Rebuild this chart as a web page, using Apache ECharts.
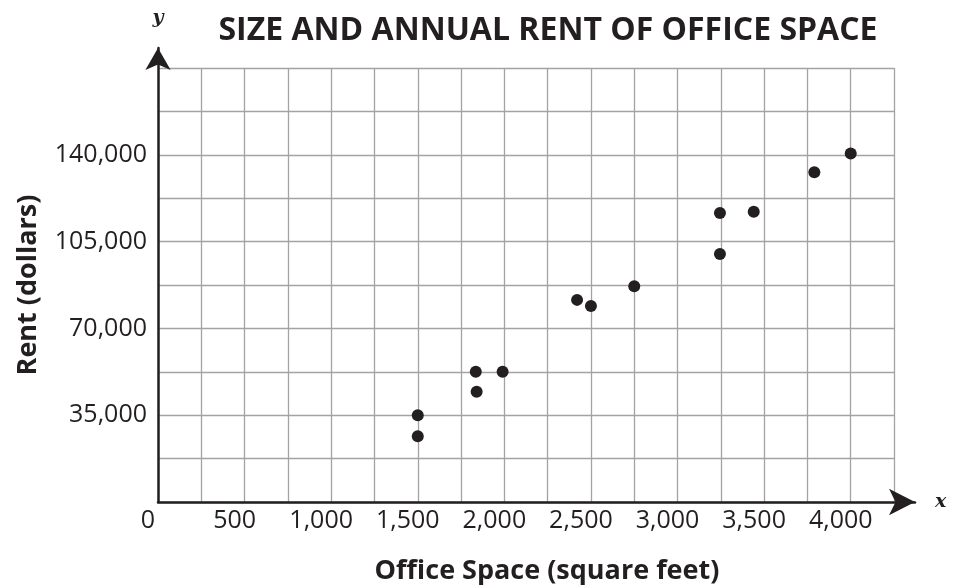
<!DOCTYPE html>
<html>
<head>
<meta charset="utf-8">
<script src="https://cdn.jsdelivr.net/npm/echarts@6/dist/echarts.min.js"></script>
<style>
  html, body { margin: 0; padding: 0; background: #fff; }
  #main { width: 953px; height: 588px; }
</style>
</head>
<body>
<div id="main"></div>
<script>
// office space (sq ft) and annual rent (dollars)
var officeSpace = [1500, 1500, 1835, 1840, 1990, 2420, 2500, 2750, 3245, 3245, 3440, 3790, 4000];
var rentDollars = [35000, 26500, 52500, 44500, 52500, 81500, 79000, 87000, 116500, 100000, 117000, 133000, 140500];

var points = officeSpace.map(function (x, i) { return [x, rentDollars[i]]; });

var ink = '#231f20';
var fmt = function (v) { return v.toLocaleString('en-US'); };

var chartDom = document.getElementById('main');
var myChart = echarts.init(chartDom);
var option = {
    animation: false,
    title: {
        text: 'SIZE AND ANNUAL RENT OF OFFICE SPACE',
        left: 543,
        top: 10,
        textAlign: 'center',
        textStyle: { fontFamily: 'Open Sans', fontWeight: 'bold', fontSize: 32, color: ink }
    },
    grid: [
        { left: 158, right: 59, top: 68, bottom: 86, outerBoundsMode: 'none' },
        // wider grid only for the arrowed axis lines
        { left: 158, right: 38, top: 48, bottom: 86, outerBoundsMode: 'none' }
    ],
    xAxis: [
        {
            type: 'value', gridIndex: 0,
            min: 0, max: 4250, interval: 250,
            name: 'Office Space (square feet)',
            nameLocation: 'middle',
            nameGap: 56,
            nameTextStyle: { fontFamily: 'Open Sans', fontWeight: 'bold', fontSize: 27, color: ink, padding: [0, 0, 0, 42] },
            axisLine: { show: false },
            axisTick: { show: false },
            axisLabel: {
                margin: 6,
                fontFamily: 'Open Sans', fontSize: 25, color: ink,
                padding: [0, 20, 0, 0],
                showMaxLabel: false,
                formatter: function (v) { return v % 500 === 0 ? fmt(v) : ''; }
            },
            splitLine: { show: true, lineStyle: { color: '#a3a3a3', width: 1.3 } }
        },
        {
            type: 'value', gridIndex: 1, min: 0, max: 1,
            name: 'x', nameLocation: 'end', nameGap: 20,
            nameTextStyle: { fontFamily: 'DejaVu Serif', fontStyle: 'italic', fontWeight: 'bold', fontSize: 19, color: ink, verticalAlign: 'middle', padding: [0, 0, 4, 0] },
            axisLine: { show: true, symbol: ['none', 'arrow'], symbolSize: [20, 26], lineStyle: { color: ink, width: 2.5 } },
            axisTick: { show: false }, axisLabel: { show: false }, splitLine: { show: false }
        }
    ],
    yAxis: [
        {
            type: 'value', gridIndex: 0,
            min: 0, max: 175000, interval: 17500,
            name: 'Rent (dollars)',
            nameLocation: 'middle',
            nameGap: 116,
            nameRotate: 90,
            nameTextStyle: { fontFamily: 'Open Sans', fontWeight: 'bold', fontSize: 27, color: ink },
            axisLine: { show: false },
            axisTick: { show: false },
            axisLabel: {
                margin: 11,
                fontFamily: 'Open Sans', fontSize: 25, color: ink,
                formatter: function (v) { return (v > 0 && v % 35000 === 0 && v < 175000) ? fmt(v) : ''; }
            },
            splitLine: { show: true, lineStyle: { color: '#a3a3a3', width: 1.3 } }
        },
        {
            type: 'value', gridIndex: 1, min: 0, max: 1,
            name: 'y', nameLocation: 'end', nameGap: 20,
            nameTextStyle: { fontFamily: 'DejaVu Serif', fontStyle: 'italic', fontWeight: 'bold', fontSize: 19, color: ink, align: 'center' },
            axisLine: { show: true, symbol: ['none', 'arrow'], symbolSize: [19, 22], lineStyle: { color: ink, width: 2.5 } },
            axisTick: { show: false }, axisLabel: { show: false }, splitLine: { show: false }
        }
    ],
    series: [
        {
            type: 'scatter',
            xAxisIndex: 0, yAxisIndex: 0,
            symbol: 'circle',
            symbolSize: 12,
            itemStyle: { color: ink, opacity: 1 },
            data: points
        }
    ]
};
myChart.setOption(option);
</script>
</body>
</html>
